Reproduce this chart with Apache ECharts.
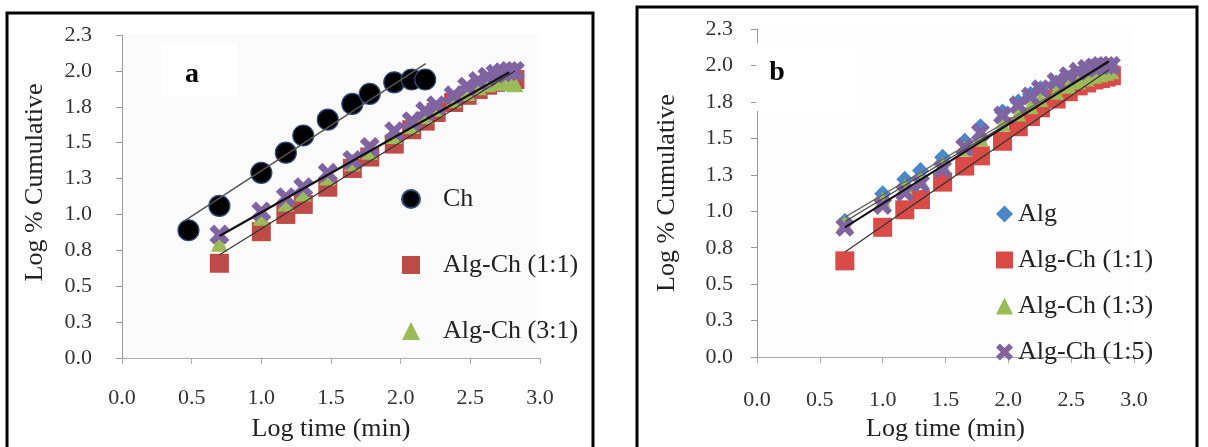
<!DOCTYPE html>
<html><head><meta charset="utf-8">
<script src="https://cdn.jsdelivr.net/npm/echarts@6/dist/echarts.min.js"></script>
<style>html,body{margin:0;padding:0;background:#fff}#c{width:1208px;height:447px}</style>
</head><body><div id="c"></div>
<script>
// ---- tick labels ----
const xTickLabels = ['0.0','0.5','1.0','1.5','2.0','2.5','3.0'];
const yTickLabels = ['0.0','0.3','0.5','0.8','1.0','1.3','1.5','1.8','2.0','2.3'];

// ---- panel a data ----
const chLogTime = [0.477,0.699,1.0,1.176,1.301,1.477,1.653,1.778,1.954,2.079,2.176];
const chA       = [0.89,1.06,1.29,1.43,1.55,1.66,1.77,1.84,1.92,1.94,1.94];
const logTime   = [0.699,1.0,1.176,1.301,1.477,1.653,1.778,1.954,2.079,2.176,2.255,2.380,2.477,2.556,2.623,2.681,2.732,2.778,2.820];
const algCh11A  = [0.66,0.88,1.00,1.07,1.19,1.32,1.40,1.49,1.59,1.65,1.71,1.78,1.83,1.87,1.90,1.92,1.93,1.94,1.94];
const algCh31A  = [0.80,0.98,1.08,1.15,1.26,1.36,1.44,1.55,1.62,1.69,1.74,1.80,1.85,1.89,1.91,1.92,1.92,1.92,1.91];
const algCh51A  = [0.86,1.02,1.12,1.19,1.29,1.38,1.47,1.58,1.65,1.72,1.76,1.83,1.89,1.93,1.96,1.98,1.99,2.00,2.00];
const trendChA    = [[0.44,0.95],[2.18,2.05]];
const trendThickA = [[0.70,0.85],[2.78,1.99]];
const trendThinA  = [[0.70,0.72],[2.82,2.00]];

// ---- panel b data ----
const algB      = [0.93,1.12,1.22,1.28,1.37,1.48,1.58,1.68,1.75,1.80,1.84,1.88,1.91,1.94,1.96,1.97,1.98,1.99,1.99];
const algCh11B  = [0.66,0.89,1.01,1.08,1.20,1.31,1.38,1.48,1.58,1.65,1.71,1.77,1.82,1.86,1.88,1.90,1.91,1.92,1.93];
const algCh13B  = [0.92,1.08,1.17,1.22,1.32,1.43,1.50,1.60,1.67,1.72,1.77,1.82,1.86,1.89,1.91,1.93,1.94,1.95,1.96];
const algCh15B  = [0.89,1.04,1.13,1.19,1.29,1.44,1.54,1.66,1.73,1.79,1.84,1.89,1.93,1.96,1.98,1.99,2.00,2.00,2.00];
const trendAlgB  = [[0.70,0.96],[2.80,2.03]];
const trend13B   = [[0.70,0.93],[2.80,2.02]];
const trend15B   = [[0.70,0.89],[2.80,2.03]];
const trend11B   = [[0.70,0.72],[2.80,1.97]];

const pair = (xs, ys) => xs.map((x, i) => [x, ys[i]]);
const XPATH = 'path://M4.6,0 L10,5.4 L15.4,0 L20,4.6 L14.6,10 L20,15.4 L15.4,20 L10,14.6 L4.6,20 L0,15.4 L5.4,10 L0,4.6 Z';
const FONT = 'Liberation Serif';

function xAx(gi, margin, gap) {
  return {
    gridIndex: gi, type: 'value', min: 0, max: 3, interval: 0.5,
    name: 'Log time (min)', nameLocation: 'middle', nameGap: gap,
    nameTextStyle: {fontFamily: FONT, fontSize: 26, color: '#222'},
    axisLine: {onZero: false, lineStyle: {color: '#aaa', width: 1}},
    axisTick: {show: true, inside: false, length: 6, lineStyle: {color: '#aaa'}},
    axisLabel: {margin: margin, fontFamily: FONT, fontSize: 22, color: '#333',
      formatter: v => xTickLabels[Math.round(v / 0.5)]},
    splitLine: {show: false}
  };
}
function yAx(gi, margin, gap, pad) {
  return {
    gridIndex: gi, type: 'value', min: 0, max: 2.25, interval: 0.25,
    name: 'Log % Cumulative', nameLocation: 'middle', nameGap: gap,
    nameTextStyle: {fontFamily: FONT, fontSize: 26, color: '#222', padding: pad},
    axisLine: {show: true, onZero: false, lineStyle: {color: '#999', width: 1}},
    axisTick: {show: true, inside: false, length: 6, lineStyle: {color: '#999'}},
    axisLabel: {margin: margin, fontFamily: FONT, fontSize: 22, color: '#333',
      formatter: v => yTickLabels[Math.round(v / 0.25)]},
    splitLine: {show: false}
  };
}
function sc(name, gi, data, symbol, size, style) {
  return {
    type: 'scatter', name, xAxisIndex: gi, yAxisIndex: gi, data,
    symbol, symbolSize: size, itemStyle: Object.assign({opacity: 1}, style), z: 3
  };
}
function tl(gi, data, color, width) {
  return {type: 'line', xAxisIndex: gi, yAxisIndex: gi, data, symbol: 'none', silent: true,
    lineStyle: {color, width}, z: 5};
}

const chart = echarts.init(document.getElementById('c'), null, {renderer: 'canvas'});
chart.setOption({
  animation: false,
  backgroundColor: '#fff',
  grid: [
    {left: 122, top: 35, width: 418, height: 323, show: true, backgroundColor: '#fbfbfb', borderWidth: 0},
    {left: 757, top: 29, width: 377, height: 335, show: true, backgroundColor: '#fdfdfd', borderWidth: 0}
  ],
  xAxis: [xAx(0, 29, 58), xAx(1, 32, 53)],
  yAxis: [yAx(0, 30, 74, [0,0,0,28]), yAx(1, 24, 77, 0)],
  legend: [
    {orient: 'vertical', left: 396, top: 181, itemWidth: 18, itemHeight: 18, itemGap: 40,
     textStyle: {fontFamily: FONT, fontSize: 26, color: '#222', lineHeight: 26, padding: [0,0,0,18]},
     data: ['Ch', {name: 'Alg-Ch (1:1)', itemStyle: {color: '#BE4B48'}}, 'Alg-Ch (3:1)'],
     selectedMode: false},
    {orient: 'vertical', left: 991, top: 196, itemWidth: 17, itemHeight: 17, itemGap: 20,
     textStyle: {fontFamily: FONT, fontSize: 26, color: '#222', lineHeight: 26},
     data: ['Alg', {name: 'Alg-Ch (1:1)', itemStyle: {color: '#D94B47'}}, 'Alg-Ch (1:3)', 'Alg-Ch (1:5)'],
     selectedMode: false}
  ],
  series: [
    sc('Ch', 0, pair(chLogTime, chA), 'circle', 21, {color: '#000', borderColor: '#2b4d80', borderWidth: 1.2}),
    sc('Alg-Ch (1:1)', 0, pair(logTime, algCh11A), 'rect', 19, {color: '#BE4B48'}),
    sc('Alg-Ch (3:1)', 0, pair(logTime, algCh31A), 'triangle', 17, {color: '#9BBB59'}),
    sc('Alg-Ch (5:1)', 0, pair(logTime, algCh51A), XPATH, 20, {color: '#8064A2'}),
    tl(0, trendChA, '#555', 1.5),
    tl(0, trendThickA, '#111', 2.2),
    tl(0, trendThinA, '#333', 1.2),

    sc('Alg', 1, pair(logTime, algB), 'diamond', 17, {color: '#4A86C8'}),
    sc('Alg-Ch (1:1)', 1, pair(logTime, algCh11B), 'rect', 19, {color: '#D94B47'}),
    sc('Alg-Ch (1:3)', 1, pair(logTime, algCh13B), 'triangle', 16, {color: '#9BBB59'}),
    sc('Alg-Ch (1:5)', 1, pair(logTime, algCh15B), XPATH, 19, {color: '#8064A2'}),
    tl(1, trendAlgB, '#666', 1.2),
    tl(1, trend13B, '#444', 1.2),
    tl(1, trend15B, '#111', 2),
    tl(1, trend11B, '#333', 1.2)
  ],
  graphic: [
    {type: 'rect', shape: {x: 161, y: 43, width: 76, height: 54}, style: {fill: '#fff'}, z: 1, silent: true},
    {type: 'rect', shape: {x: 756, y: 43, width: 100, height: 68}, style: {fill: '#fff'}, z: 1, silent: true},
    {type: 'text', x: 192, y: 75, style: {text: 'a', font: 'bold 28px "Liberation Serif"', fill: '#000', align: 'center', verticalAlign: 'middle'}, z: 10},
    {type: 'text', x: 777, y: 73, style: {text: 'b', font: 'bold 28px "Liberation Serif"', fill: '#000', align: 'center', verticalAlign: 'middle'}, z: 10},
    {type: 'rect', shape: {x: 7, y: 13, width: 586, height: 470}, style: {fill: 'none', stroke: '#000', lineWidth: 3}, z: 10, silent: true},
    {type: 'rect', shape: {x: 637, y: 7, width: 560, height: 470}, style: {fill: 'none', stroke: '#000', lineWidth: 3}, z: 10, silent: true}
  ]
});
</script></body></html>
